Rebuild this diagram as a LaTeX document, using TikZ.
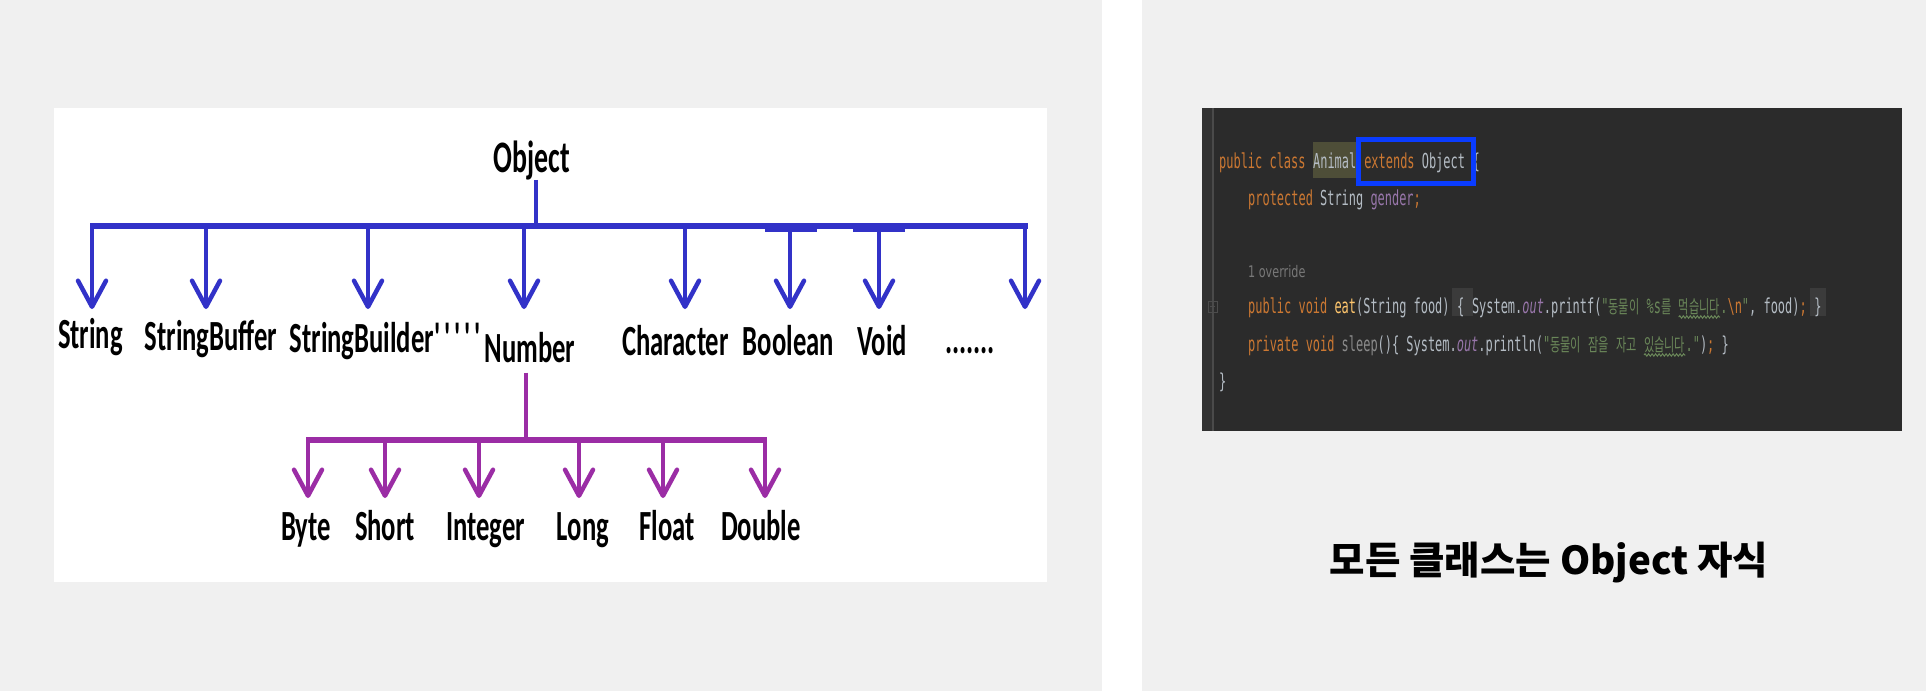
\documentclass[tikz,border=0pt]{standalone}
\usepackage{fontspec}
\usetikzlibrary{arrows.meta,decorations.pathmorphing}
\newfontfamily\diagf[FakeStretch=0.62]{Carlito}
\newfontfamily\cmono[FakeStretch=0.58]{DejaVu Sans Mono}
\newfontfamily\kmono[FakeStretch=0.62]{Noto Sans CJK KR}
\newfontfamily\kcap{Noto Sans CJK KR}
\newfontfamily\hintf[FakeStretch=0.7]{DejaVu Sans}
\definecolor{pagebg}{HTML}{F0F0F0}
\definecolor{tblue}{RGB}{50,50,200}
\definecolor{tpurp}{RGB}{155,45,165}
\definecolor{ide}{HTML}{2B2B2B}
\definecolor{gut}{HTML}{323232}
\definecolor{gutl}{HTML}{4A4A4A}
\definecolor{ckw}{HTML}{CC7832}
\definecolor{cpl}{HTML}{B4BCC4}
\definecolor{cpu}{HTML}{9876AA}
\definecolor{cst}{HTML}{6A8759}
\definecolor{cmt}{HTML}{FFC66D}
\definecolor{chint}{HTML}{787878}
\definecolor{cgr}{HTML}{8A8A8A}
\definecolor{animbg}{HTML}{4E4E38}
\definecolor{bracebg}{HTML}{3B3B3B}
\definecolor{hlblue}{RGB}{10,60,255}
\newcommand\ccKw{\color{ckw}}
\newcommand\ccPl{\color{cpl}}
\newcommand\ccPu{\color{cpu}}
\newcommand\ccSt{\color{cst}}
\newcommand\ccMt{\color{cmt}}
\newcommand\ccGr{\color{cgr}}
\newcommand\ccS{\mbox{\ }}
\newcommand\ccKr[1]{{\kmono\fontsize{18}{24}\selectfont\color{cst}#1}}
\pgfdeclarelayer{back}
\pgfdeclarelayer{hl}
\pgfsetlayers{back,hl,main}
\tikzset{
  lbl/.style={font=\diagf\bfseries\fontsize{43}{48}\selectfont, inner sep=0pt, anchor=base, text=black},
  bbus/.style={draw=tblue, line width=6pt},
  bline/.style={draw=tblue, line width=4.5pt},
  bstem/.style={draw=tblue, line width=4.5pt, -{Straight Barb[length=26pt,width=28pt,round]}},
  pbus/.style={draw=tpurp, line width=6pt},
  pline/.style={draw=tpurp, line width=4.5pt},
  pstem/.style={draw=tpurp, line width=4.5pt, -{Straight Barb[length=26pt,width=28pt,round]}},
  code/.style={font=\cmono\fontsize{20.6}{24}\selectfont, inner sep=0pt, anchor=base west, text=cpl},
  hint/.style={font=\hintf\fontsize{16}{20}\selectfont, inner sep=0pt, anchor=base west, text=chint},
  wavy/.style={draw=cst, line width=1pt, decorate, decoration={snake, amplitude=1.2pt, segment length=3.5pt}}
}
\begin{document}
\begin{tikzpicture}[x=1pt,y=-1pt]
\begin{pgfonlayer}{back}
  \fill[pagebg] (0,0) rectangle (1926,691);
  \fill[white] (1102,0) rectangle (1142,691);
  \fill[white] (54,108) rectangle (1047,582);
  \fill[ide] (1202,108) rectangle (1902,431);
  \fill[gut] (1202,108) rectangle (1213,431);
  \draw[gutl, line width=1.5pt] (1213,108) -- (1213,431);
\end{pgfonlayer}
\useasboundingbox (0,0) rectangle (1926,691);

% ---- class hierarchy ----
\node[lbl, font=\diagf\bfseries\fontsize{45}{50}\selectfont] (Object) at (532,172) {Object};
\node[lbl] (String) at (90.5,348) {String};
\node[lbl] (StringBuffer) at (211,350) {StringBuffer};
\node[lbl] (StringBuilder) at (387,352) {StringBuilder\textquotesingle\textquotesingle\textquotesingle\textquotesingle\textquotesingle};
\node[lbl] (Number) at (530,362) {Number};
\node[lbl] (Character) at (675.5,355) {Character};
\node[lbl] (Boolean) at (788.5,355) {Boolean};
\node[lbl] (Void) at (882,355) {Void};
\node[lbl] (More) at (970,353) {.......};

\node[lbl] (Byte) at (306,540) {Byte};
\node[lbl] (Short) at (385,540) {Short};
\node[lbl] (Integer) at (485.5,540) {Integer};
\node[lbl] (Long) at (583,540) {Long};
\node[lbl] (Float) at (667,540) {Float};
\node[lbl] (Double) at (761,540) {Double};

\coordinate (oJ) at (536,226);
\coordinate (bL) at (90,226);
\coordinate (bR) at (1028,226);
\foreach \n/\x in {String/92,StringBuffer/206,StringBuilder/368,Number/524,Character/685,Boolean/790,Void/879,More/1025}{
  \coordinate (j-\n) at (\x,226);
  \coordinate (t-\n) at (\x,309);
  \draw[bstem] (j-\n) -- (t-\n);
}
\draw[bline] (Object.south -| oJ) -- (oJ);
\draw[bbus] (bL) -- (bR);
\draw[tblue, line width=4pt] (765,229.5) -- (817,229.5);
\draw[tblue, line width=4pt] (853,229.5) -- (905,229.5);

\coordinate (nJ) at (526,440);
\coordinate (pL) at (306,440);
\coordinate (pR) at (767,440);
\foreach \n/\x in {Byte/308,Short/385,Integer/479,Long/579,Float/663,Double/765}{
  \coordinate (j-\n) at (\x,440);
  \coordinate (t-\n) at (\x,498);
  \draw[pstem] (j-\n) -- (t-\n);
}
\draw[pline, shorten <=10pt] (Number.south -| nJ) -- (nJ);
\draw[pbus] (pL) -- (pR);

% ---- code panel ----
\node[code] (c1a) at (1219,168) {\ccKw public class\ccS};
\node[code] (c1b) at (c1a.base east) {Animal};
\node[code] (c1c) at (c1b.base east) {\ccS};
\node[code] (c1d) at (c1c.base east) {\ccKw extends \ccPl Object};
\node[code] (c1e) at (c1d.base east) {\ccS\{};

\node[code] (c2) at (1248,205) {\ccKw protected \ccPl String \ccPu gender\ccKw;};
\node[hint] (c3) at (1248,277) {1 override};

\node[code] (c4a) at (1248,313) {\ccKw public void \ccMt eat\ccPl(String food)\ccS};
\node[code] (c4b) at (c4a.base east) {\{};
\node[code] (c4c) at (c4b.base east) {\ System.{\ccPu\itshape out}.printf(\ccSt"\ccKr{동물이}\ \%s\ccKr{를}\ccS};
\node[code] (c4k) at (c4c.base east) {\ccKr{먹습니다}};
\node[code] (c4d) at (c4k.base east) {\ccSt.\ccKw\textbackslash n\ccSt"\ccPl, food)\ccKw;\ccS};
\node[code] (c4e) at (c4d.base east) {\}};

\node[code] (c5a) at (1248,351) {\ccKw private void \ccGr sleep\ccPl()\{ System.{\ccPu\itshape out}.println(\ccSt"\ccKr{동물이}\ \ccKr{잠을}\ \ccKr{자고}\ccS};
\node[code] (c5k) at (c5a.base east) {\ccKr{있습니다}};
\node[code] (c5d) at (c5k.base east) {\ccSt."\ccPl)\ccKw;\ccPl\ \}};

\node[code] (c6) at (1219,388) {\}};

\begin{pgfonlayer}{hl}
  \fill[animbg] ([yshift=26pt]c1b.base west) rectangle ([yshift=-10pt]c1b.base east);
  \fill[bracebg] ([xshift=-5pt,yshift=25pt]c4b.base west) rectangle ([xshift=8pt,yshift=-3pt]c4b.base east);
  \fill[bracebg] ([xshift=-4pt,yshift=25pt]c4e.base west) rectangle ([xshift=4pt,yshift=-3pt]c4e.base east);
\end{pgfonlayer}
\draw[hlblue, line width=5pt] ([xshift=-6pt,yshift=28.5pt]c1d.base west) rectangle ([xshift=8pt,yshift=-15.5pt]c1d.base east);
\draw[wavy] ([yshift=-4pt]c4k.base west) -- ([yshift=-4pt]c4k.base east);
\draw[wavy] ([yshift=-4pt]c5k.base west) -- ([yshift=-4pt]c5k.base east);
\draw[gray!60!black, line width=1pt] (1208,301) rectangle (1217,312);
\draw[gray!60!black, line width=1pt] (1210,306.5) -- (1215,306.5);

% ---- caption ----
\node[font=\kcap\bfseries\fontsize{38.5}{46}\selectfont, anchor=base, inner sep=0pt] (cap) at (1549,574) {모든 클래스는 Object 자식};
\end{tikzpicture}
\end{document}
